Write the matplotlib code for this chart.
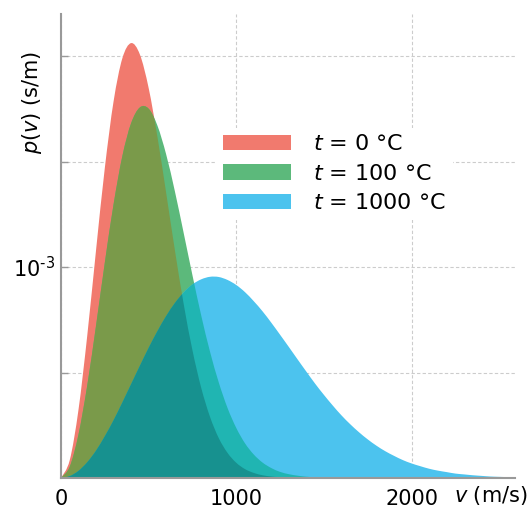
import numpy as np
import matplotlib
matplotlib.use('Agg')
import matplotlib.pyplot as plt
from matplotlib.patches import Patch, PathPatch
from matplotlib.path import Path

plt.rcParams['font.family'] = ['DejaVu Sans']
plt.rcParams['mathtext.fontset'] = 'dejavusans'

# speed grid (m/s) and speed distributions of N2, in units of 1e-3 s/m
speed = np.arange(0, 2650, 50)

p_0C = [0.0, 0.085, 0.325, 0.677, 1.081, 1.470, 1.786, 1.990, 2.062, 2.008,
        1.849, 1.618, 1.351, 1.078, 0.824, 0.605, 0.427, 0.290, 0.189, 0.119,
        0.072, 0.042, 0.024, 0.013, 0.007, 0.0035, 0.0017, 0.0008, 0.0004, 0.0,
        0.0, 0.0, 0.0, 0.0, 0.0, 0.0, 0.0, 0.0, 0.0, 0.0,
        0.0, 0.0, 0.0, 0.0, 0.0, 0.0, 0.0, 0.0, 0.0, 0.0,
        0.0, 0.0, 0.0]
p_100C = [0.0, 0.054, 0.207, 0.440, 0.723, 1.021, 1.298, 1.526, 1.682, 1.757,
          1.751, 1.671, 1.534, 1.358, 1.161, 0.961, 0.770, 0.599, 0.453, 0.332,
          0.237, 0.164, 0.111, 0.073, 0.047, 0.029, 0.018, 0.011, 0.006, 0.0034,
          0.0019, 0.001, 0.0005, 0.0, 0.0, 0.0, 0.0, 0.0, 0.0, 0.0,
          0.0, 0.0, 0.0, 0.0, 0.0, 0.0, 0.0, 0.0, 0.0, 0.0,
          0.0, 0.0, 0.0]
p_1000C = [0.0, 0.009, 0.034, 0.075, 0.130, 0.198, 0.274, 0.358, 0.445, 0.532,
           0.617, 0.696, 0.768, 0.830, 0.880, 0.918, 0.942, 0.954, 0.953, 0.939,
           0.915, 0.881, 0.838, 0.790, 0.736, 0.679, 0.621, 0.562, 0.504, 0.447,
           0.394, 0.344, 0.297, 0.255, 0.217, 0.183, 0.153, 0.127, 0.105, 0.085,
           0.069, 0.056, 0.044, 0.035, 0.028, 0.021, 0.017, 0.013, 0.010, 0.007,
           0.0055, 0.0041, 0.003]

labels = ['$t$ = 0 °C', '$t$ = 100 °C', '$t$ = 1000 °C']

c_red = '#F17A6E'
c_green = '#5CB97B'
c_blue = '#4CC3EE'
c_olive = '#7A9A4A'
c_teal = '#20B5B2'
c_dark = '#17918F'


def area_path(x, y):
    # closed area under a smooth (catmull-rom) curve through the points
    pts = np.column_stack([x, y]).astype(float)
    n = len(pts)
    verts = [pts[0]]
    codes = [Path.MOVETO]
    for i in range(n - 1):
        p0 = pts[max(i - 1, 0)]
        p1 = pts[i]
        p2 = pts[i + 1]
        p3 = pts[min(i + 2, n - 1)]
        verts += [p1 + (p2 - p0) / 6.0, p2 - (p3 - p1) / 6.0, p2]
        codes += [Path.CURVE4] * 3
    verts += [(x[-1], 0), (x[0], 0), (x[0], 0)]
    codes += [Path.LINETO, Path.LINETO, Path.CLOSEPOLY]
    return Path(verts, codes)


fig = plt.figure(figsize=(5.30, 5.09), dpi=100)
ax = fig.add_axes([0.1151, 0.0609, 0.8566, 0.9116])
ax.set_axisbelow(True)

path_r = area_path(speed, p_0C)
path_g = area_path(speed, p_100C)
path_b = area_path(speed, p_1000C)

patch_r = ax.add_patch(PathPatch(path_r, facecolor=c_red, lw=0))
patch_g = ax.add_patch(PathPatch(path_g, facecolor=c_green, lw=0))
patch_b = ax.add_patch(PathPatch(path_b, facecolor=c_blue, lw=0))

# overlapping parts
olive = ax.add_patch(PathPatch(path_g, facecolor=c_olive, lw=0))
olive.set_clip_path(patch_r)
teal = ax.add_patch(PathPatch(path_b, facecolor=c_teal, lw=0))
teal.set_clip_path(patch_g)
dark = ax.add_patch(PathPatch(path_b, facecolor=c_dark, lw=0))
dark.set_clip_path(patch_r)

ax.set_xlim(0, 2590)
ax.set_ylim(0, 2.2)

ax.set_xticks([0, 1000, 2000])
ax.set_xticklabels(['0', '1000', '2000'], fontsize=15)
ax.set_yticks([0.5, 1.0, 1.5, 2.0])
ax.set_yticklabels(['', r'10$^{\text{-}3}$', '', ''], fontsize=15)
ax.tick_params(direction='in', length=5, width=1, color='#999999', pad=4)
ax.tick_params(axis='x', length=0, pad=8)

ax.grid(True, color='#cccccc', linestyle=(0, (3, 2)), linewidth=0.8)

for s in ['top', 'right']:
    ax.spines[s].set_visible(False)
for s in ['left', 'bottom']:
    ax.spines[s].set_color('#999999')
    ax.spines[s].set_linewidth(1.5)

ax.set_ylabel('$p$($v$) (s/m)', fontsize=15)
ax.yaxis.set_label_coords(-0.037, 0.81)
ax.text(0.947, -0.037, '$v$ (m/s)', transform=ax.transAxes, fontsize=15,
        ha='center', va='center')

handles = [Patch(facecolor=c_red), Patch(facecolor=c_green), Patch(facecolor=c_blue)]
leg = ax.legend(handles, labels, loc='upper left', bbox_to_anchor=(0.3432, 0.755),
                fontsize=16, frameon=True, fancybox=False, edgecolor='none',
                facecolor='white', framealpha=1, handlelength=3.05,
                handleheight=0.68, labelspacing=0.42, handletextpad=1.0,
                borderpad=0.3, borderaxespad=0)

plt.savefig('out.png', dpi=100)
